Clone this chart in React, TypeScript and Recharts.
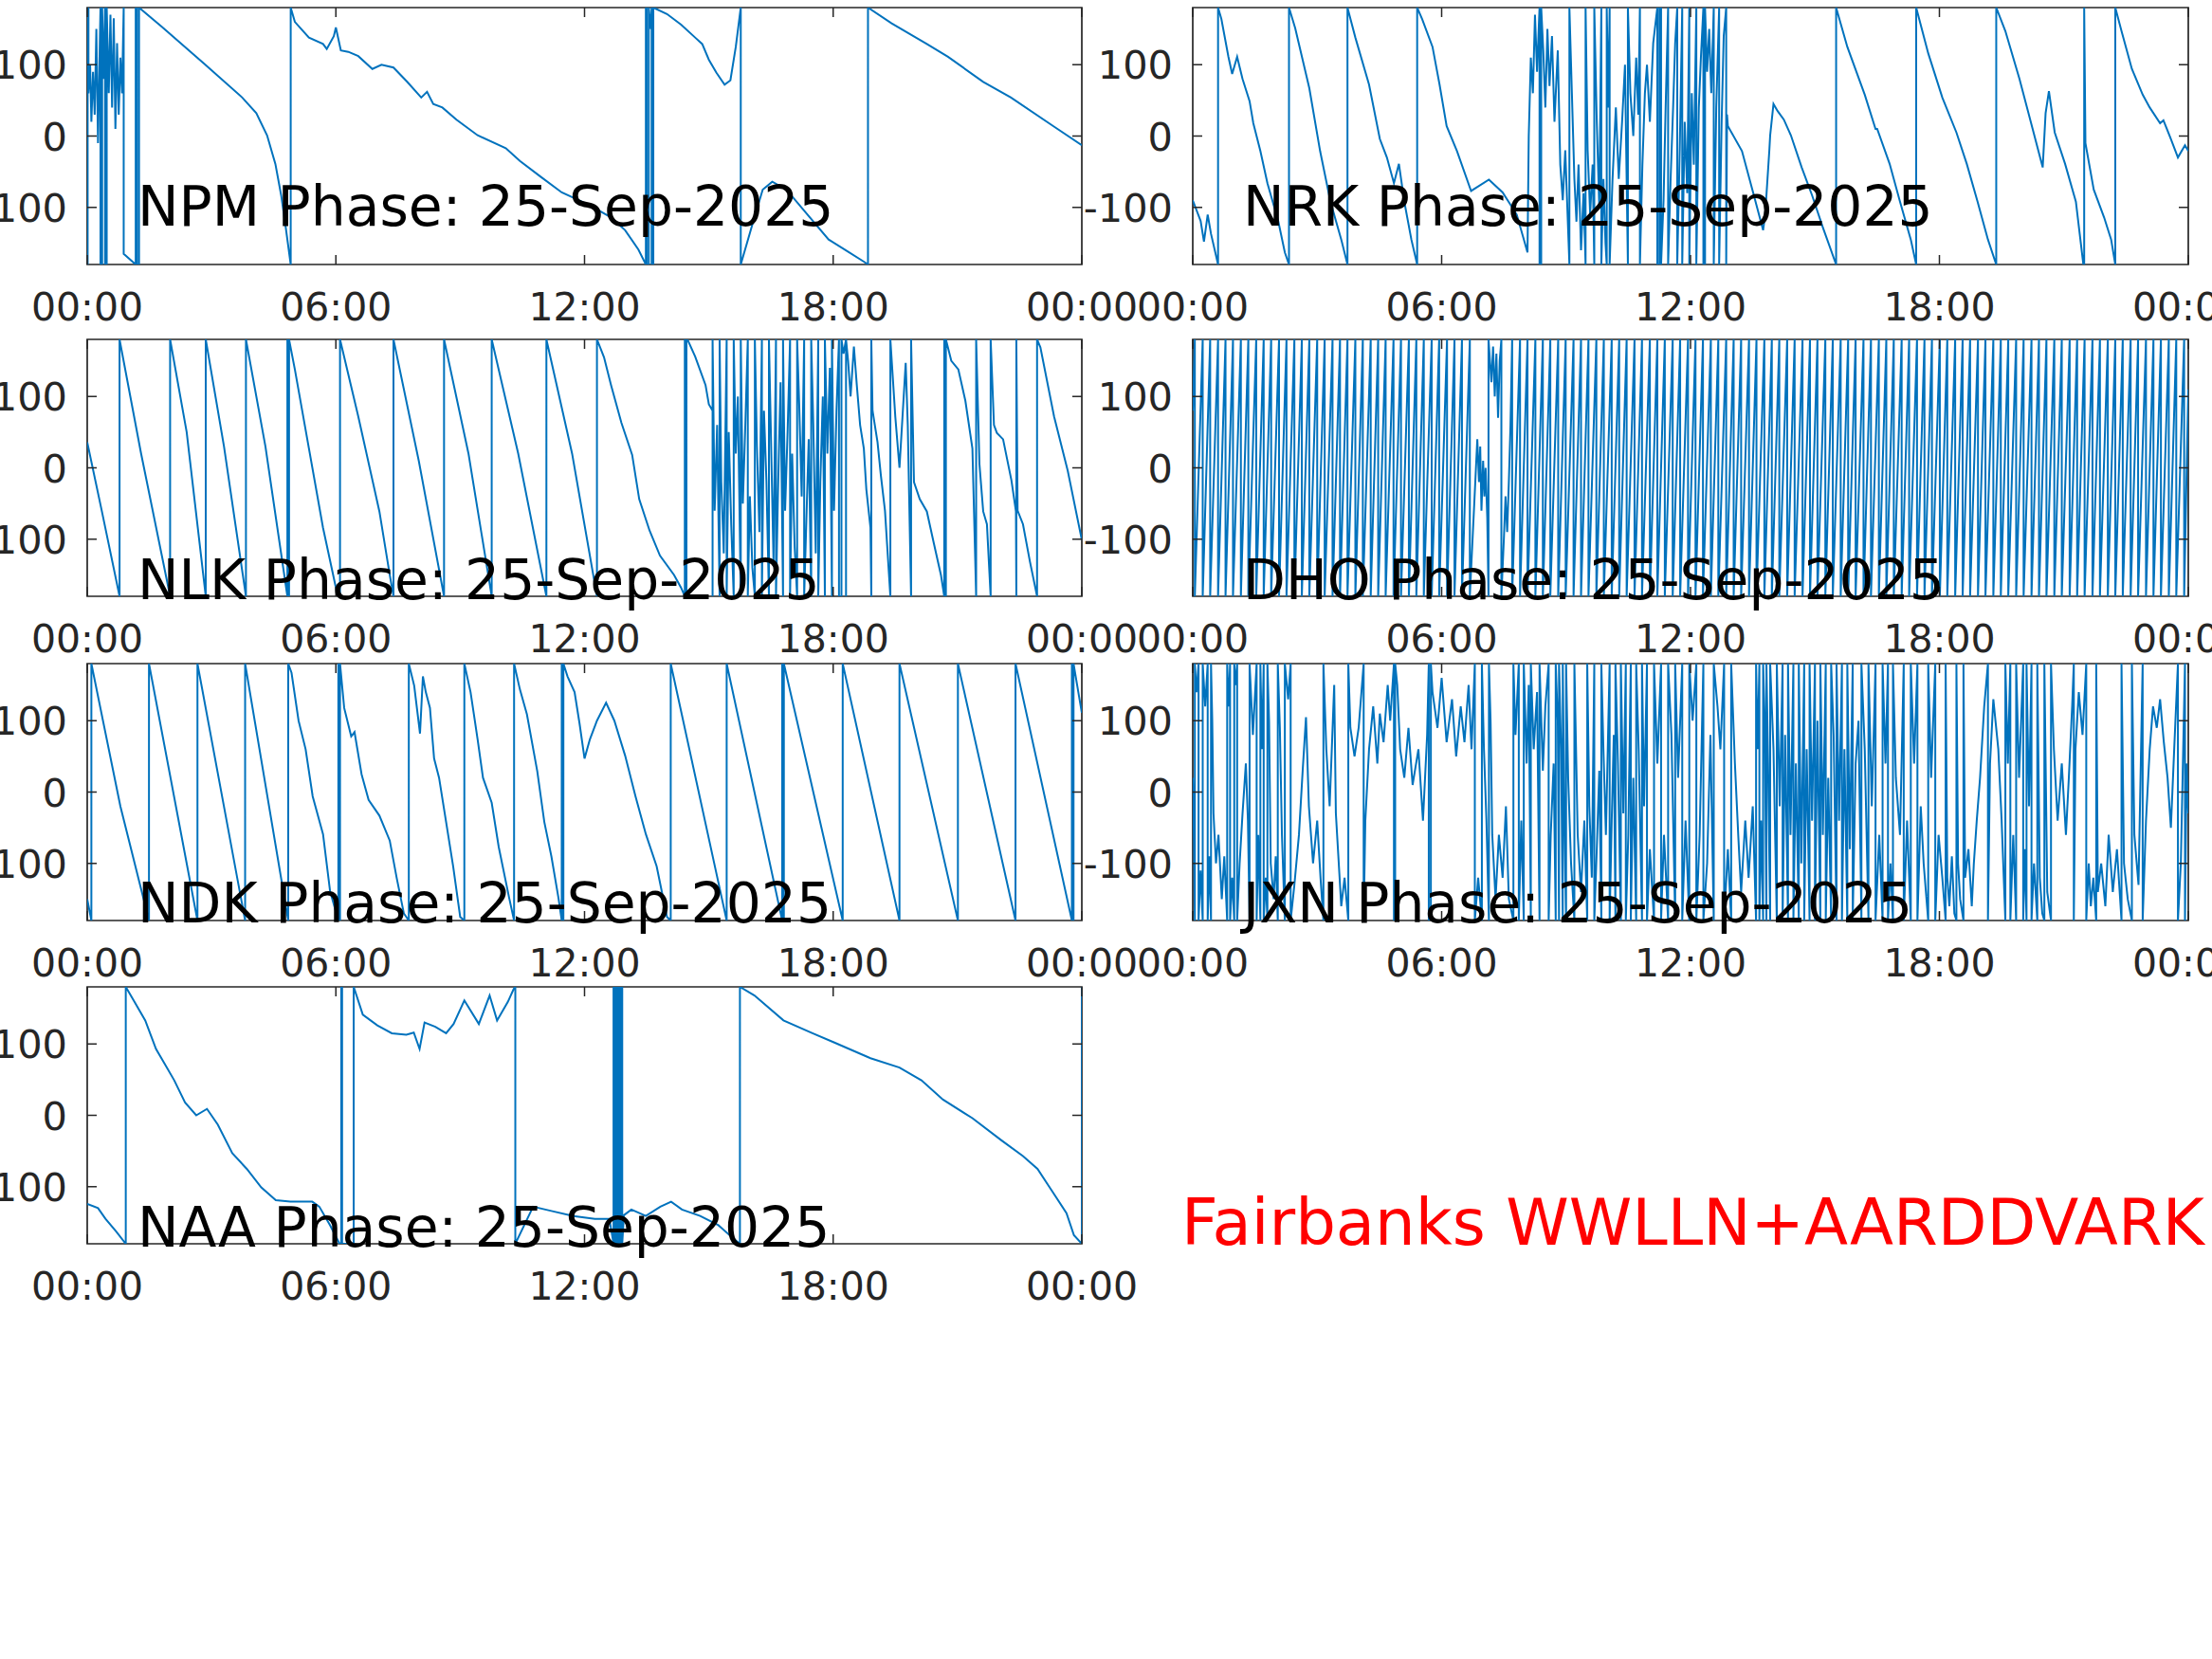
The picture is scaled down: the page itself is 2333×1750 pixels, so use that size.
import React from 'react';
import { LineChart, Line, XAxis, YAxis, ReferenceArea } from 'recharts';

type Pt = [number, number];

// axes
const hourTicks = [0, 6, 12, 18, 24];
const hourTickLabels = ['00:00', '06:00', '12:00', '18:00', '00:00'];
const phaseTicks = [-100, 0, 100];

// [hour, phase deg]; a wrap is two points at the same hour
const npmPhase: Pt[] = [
  [0, 180], [0, -180], [0.01, -180], [0.01, 180], [0.03, 180], [0.03, 60], [0.07, 100], [0.1, 20],
  [0.14, 90], [0.18, 30], [0.22, 150], [0.26, -10], [0.3, 120], [0.32, 180], [0.32, -180],
  [0.36, -180], [0.36, 180], [0.4, 80], [0.43, 180], [0.43, -180], [0.47, -180], [0.47, 180],
  [0.52, 60], [0.56, 170], [0.6, 40], [0.64, 165], [0.68, 10], [0.72, 130], [0.76, 30], [0.8, 110],
  [0.84, 60], [0.88, 180], [0.88, -165], [1.17, -180], [1.17, 180], [1.2, 180], [1.2, -180],
  [1.25, -180], [1.25, 180], [1.8, 153], [2.81, 102], [3.74, 54], [4.08, 32], [4.34, 1], [4.54, -39],
  [4.68, -83], [4.79, -128], [4.91, -180], [4.91, 180], [5.01, 160], [5.35, 138], [5.69, 129],
  [5.78, 122], [5.95, 140], [6.0, 152], [6.12, 120], [6.3, 118], [6.54, 112], [6.88, 94], [7.1, 100],
  [7.39, 96], [7.72, 76], [8.06, 54], [8.2, 62], [8.35, 45], [8.57, 40], [8.91, 23], [9.42, 1],
  [10.1, -17], [10.44, -35], [10.94, -57], [11.45, -79], [12.13, -97], [12.64, -114], [12.98, -132],
  [13.3, -159], [13.48, -180], [13.48, 180], [13.5, 180], [13.5, -180], [13.55, -180], [13.55, 180],
  [13.6, 150], [13.62, 180], [13.62, -180], [13.66, -180], [13.66, 180], [13.99, 171], [14.33, 156],
  [14.67, 138], [14.84, 129], [15.0, 107], [15.18, 89], [15.38, 72], [15.52, 78], [15.65, 125],
  [15.77, 180], [15.77, -180], [16.1, -114], [16.3, -75], [16.53, -64], [16.87, -75], [17.38, -110],
  [17.89, -145], [18.3, -160], [18.74, -176], [18.84, -180], [18.84, 180], [19.41, 158], [20.26, 129],
  [20.77, 111], [21.62, 76], [22.29, 54], [23.31, 14], [24, -13],
];

const nrkPhase: Pt[] = [
  [0, -90], [0.19, -119], [0.27, -148], [0.36, -110], [0.44, -137], [0.61, -180], [0.61, 180],
  [0.69, 164], [0.86, 111], [0.95, 87], [1.07, 111], [1.2, 80], [1.37, 49], [1.46, 18], [1.63, -21],
  [1.8, -66], [2.06, -119], [2.22, -163], [2.32, -180], [2.32, 180], [2.47, 151], [2.81, 67],
  [3.07, -21], [3.32, -92], [3.58, -145], [3.73, -180], [3.73, 180], [3.92, 138], [4.25, 72],
  [4.51, -4], [4.68, -30], [4.85, -66], [4.97, -39], [5.1, -92], [5.27, -145], [5.41, -180],
  [5.41, 180], [5.53, 164], [5.78, 125], [5.95, 72], [6.12, 14], [6.37, -21], [6.71, -77],
  [7.14, -61], [7.47, -79], [7.81, -110], [8.07, -163], [8.1, 0], [8.15, 110], [8.2, 60], [8.25, 170],
  [8.3, 90], [8.36, 180], [8.36, -180], [8.4, -180], [8.4, 180], [8.45, 120], [8.5, 40], [8.55, 150],
  [8.6, 70], [8.66, 140], [8.72, 20], [8.8, 120], [8.86, -40], [8.92, -90], [8.98, -20], [9.08, -180],
  [9.08, 180], [9.14, 60], [9.2, -60], [9.25, -120], [9.3, -40], [9.36, -160], [9.42, -80],
  [9.47, -180], [9.47, 180], [9.52, -20], [9.58, -110], [9.64, -40], [9.68, -180], [9.68, 180],
  [9.74, 20], [9.8, -100], [9.85, 180], [9.85, -180], [9.9, -60], [9.95, -150], [9.98, -180],
  [9.98, 180], [10.02, 40], [10.05, 180], [10.05, -180], [10.12, -60], [10.2, 40], [10.27, -60],
  [10.35, 20], [10.42, 100], [10.49, -180], [10.49, 180], [10.55, 60], [10.62, 0], [10.69, 110],
  [10.74, 30], [10.78, 180], [10.78, -180], [10.84, -40], [10.9, 60], [10.95, 100], [11.02, 20],
  [11.1, 130], [11.2, 180], [11.2, -180], [11.25, -180], [11.25, 180], [11.29, 180], [11.29, -180],
  [11.35, -90], [11.4, 40], [11.46, 180], [11.46, -180], [11.52, -60], [11.58, 40], [11.63, 130],
  [11.68, 180], [11.68, -180], [11.74, -20], [11.8, 180], [11.8, -180], [11.86, 20], [11.92, -80],
  [11.97, 180], [11.97, -180], [12.03, 60], [12.08, -40], [12.14, 180], [12.14, -180], [12.2, 40],
  [12.25, 110], [12.31, 180], [12.31, -180], [12.35, -180], [12.35, 180], [12.4, 90], [12.45, 150],
  [12.5, 60], [12.56, 180], [12.56, -180], [12.62, 40], [12.69, 180], [12.69, -180], [12.75, 20],
  [12.8, 140], [12.86, 180], [12.86, -180], [12.88, 30], [12.9, 14], [13.24, -21], [13.49, -75],
  [13.75, -132], [13.8, -110], [13.9, -20], [13.92, 1], [14.0, 45], [14.1, 35], [14.25, 23],
  [14.42, 1], [14.68, -44], [14.93, -83], [15.19, -128], [15.51, -180], [15.51, 180], [15.78, 125],
  [16.2, 58], [16.46, 10], [16.5, 10], [16.8, -39], [17.05, -92], [17.31, -145], [17.44, -180],
  [17.44, 180], [17.73, 116], [18.07, 54], [18.41, 5], [18.66, -39], [18.92, -92], [19.17, -145],
  [19.37, -180], [19.37, 180], [19.59, 147], [19.93, 80], [20.27, 5], [20.49, -44], [20.56, 32],
  [20.64, 63], [20.78, 5], [21.03, -39], [21.29, -92], [21.47, -180], [21.49, -180], [21.49, 180],
  [21.52, -10], [21.72, -75], [21.97, -114], [22.14, -145], [22.24, -180], [22.24, 180], [22.39, 147],
  [22.64, 94], [22.9, 58], [23.07, 40], [23.32, 18], [23.4, 22], [23.58, -4], [23.75, -30],
  [23.92, -13], [24, -21],
];

const nlkPhase: Pt[] = [
  [0, 36], [0.35, -60], [0.78, -180], [0.78, 180], [1.3, 20], [2.0, -180], [2.0, 180], [2.4, 50],
  [2.86, -180], [2.86, 180], [3.3, 30], [3.83, -180], [3.83, 180], [4.3, 30], [4.83, -180],
  [4.83, 180], [4.85, 180], [4.85, -180], [4.87, -180], [4.87, 180], [5.01, 138], [5.35, 27],
  [5.69, -84], [6.03, -176], [6.1, -180], [6.1, 180], [6.54, 72], [7.05, -61], [7.3, -150],
  [7.39, -180], [7.39, 180], [8.0, 10], [8.61, -180], [8.61, 180], [9.2, 20], [9.76, -180],
  [9.76, 180], [10.4, 20], [11.08, -180], [11.08, 180], [11.7, 20], [12.3, -180], [12.3, 180],
  [12.47, 155], [12.64, 116], [12.89, 63], [13.15, 18], [13.32, -44], [13.57, -88], [13.82, -123],
  [14.16, -150], [14.33, -168], [14.42, -180], [14.42, 180], [14.44, 180], [14.44, -180],
  [14.46, -180], [14.46, 180], [14.5, 178], [14.67, 156], [14.92, 116], [15.0, 89], [15.09, 80],
  [15.09, -180], [15.09, 180], [15.14, -60], [15.2, 60], [15.26, -180], [15.26, 180], [15.3, -20],
  [15.36, -120], [15.43, 180], [15.43, -180], [15.48, 50], [15.54, -80], [15.6, -180], [15.6, 180],
  [15.65, 20], [15.7, 100], [15.77, -180], [15.77, 180], [15.82, -50], [15.88, 60], [15.94, 180],
  [15.94, -180], [15.99, -40], [16.05, -140], [16.11, -180], [16.11, 180], [16.16, 30], [16.22, -90],
  [16.28, 180], [16.28, -180], [16.33, 80], [16.39, -20], [16.45, -180], [16.45, 180], [16.5, 40],
  [16.56, -130], [16.62, 180], [16.62, -180], [16.67, -30], [16.73, 120], [16.79, -180], [16.79, 180],
  [16.84, -60], [16.9, 50], [16.96, 180], [16.96, -180], [17.01, 20], [17.07, -110], [17.13, -180],
  [17.13, 180], [17.18, 90], [17.24, -40], [17.3, 180], [17.3, -180], [17.35, -80], [17.41, 40],
  [17.47, -180], [17.47, 180], [17.52, 60], [17.58, -120], [17.64, 180], [17.64, -180], [17.69, -20],
  [17.75, 100], [17.8, -180], [17.8, 180], [17.86, 20], [17.92, 140], [17.97, -180], [17.97, 180],
  [18.02, -60], [18.08, 80], [18.14, 180], [18.14, -180], [18.2, -180], [18.2, 180], [18.25, 160],
  [18.31, 180], [18.31, -180], [18.31, 180], [18.36, 150], [18.42, 100], [18.5, 170], [18.57, 116],
  [18.65, 60], [18.74, 27], [18.8, -30], [18.9, -84], [18.92, -180], [18.92, 180], [18.95, 80],
  [19.07, 36], [19.15, -10], [19.25, -60], [19.38, -180], [19.38, 180], [19.5, 71], [19.6, 0],
  [19.75, 147], [19.8, 60], [19.88, -180], [19.88, 180], [19.95, -20], [20.09, -44], [20.26, -61],
  [20.43, -106], [20.6, -150], [20.68, -180], [20.68, 180], [20.7, 180], [20.7, -180], [20.72, -180],
  [20.72, 180], [20.85, 150], [21.02, 138], [21.19, 94], [21.36, 27], [21.45, -180], [21.45, 180],
  [21.53, 5], [21.62, -61], [21.71, -79], [21.8, -180], [21.8, 180], [21.88, 60], [21.95, 49],
  [22.1, 40], [22.3, -17], [22.41, -61], [22.42, -180], [22.42, 180], [22.45, -60], [22.58, -79],
  [22.75, -132], [22.92, -180], [22.92, 180], [23.0, 169], [23.33, 72], [23.66, -4], [24, -101],
];

// DHO: fast rising sawtooth, listed by wrap hour, with a disturbed stretch around 07:00
const dhoHead: Pt[] = [[0, 80]];
const dhoWrapsBefore = [
  0.05, 0.24, 0.42, 0.61, 0.79, 0.97, 1.16, 1.34, 1.53, 1.71, 1.89, 2.08, 2.26, 2.45, 2.63, 2.81,
  3.0, 3.18, 3.37, 3.55, 3.73, 3.92, 4.1, 4.29, 4.47, 4.65, 4.84, 5.02, 5.21, 5.39, 5.57, 5.76,
  5.94, 6.13, 6.31, 6.49, 6.68,
];
const dhoBurst: Pt[] = [
  [6.86, 40], [6.9, -20], [6.93, 30], [6.96, -60], [7.0, 10], [7.03, -40], [7.06, 0], [7.1, -70],
  [7.13, -180], [7.13, 180], [7.2, 120], [7.24, 170], [7.28, 100], [7.32, 160], [7.36, 70],
  [7.4, 150], [7.44, 180], [7.44, -180], [7.5, -100], [7.54, -40], [7.58, -90], [7.62, -20],
  [7.66, 60], [7.7, 180], [7.7, -180],
];
const dhoWrapsAfter = [
  7.89, 8.07, 8.26, 8.44, 8.62, 8.81, 8.99, 9.18, 9.36, 9.54, 9.73, 9.91, 10.1, 10.28, 10.46, 10.65,
  10.83, 11.02, 11.2, 11.38, 11.57, 11.75, 11.94, 12.12, 12.3, 12.49, 12.67, 12.86, 13.04, 13.22,
  13.41, 13.59, 13.78, 13.96, 14.14, 14.33, 14.51, 14.7, 14.88, 15.06, 15.25, 15.43, 15.62, 15.8,
  15.98, 16.17, 16.35, 16.54, 16.72, 16.9, 17.09, 17.27, 17.46, 17.64, 17.82, 18.01, 18.19, 18.38,
  18.56, 18.74, 18.93, 19.11, 19.3, 19.48, 19.66, 19.85, 20.03, 20.22, 20.4, 20.58, 20.77, 20.95,
  21.14, 21.32, 21.5, 21.69, 21.87, 22.06, 22.24, 22.42, 22.61, 22.79, 22.98, 23.16, 23.34, 23.53,
  23.71, 23.9,
];
const dhoTail: Pt[] = [[24, 110]];

const ndkPhase: Pt[] = [
  [0, -150], [0.1, -180], [0.1, 180], [0.8, -20], [1.49, -180], [1.49, 180], [2.66, -180],
  [2.66, 180], [3.81, -180], [3.81, 180], [4.85, -180], [4.85, 180], [4.93, 167], [5.1, 100],
  [5.27, 60], [5.44, -6], [5.69, -59], [5.86, -139], [6.06, -180], [6.06, 180], [6.08, 180],
  [6.08, -180], [6.1, -180], [6.1, 180], [6.2, 118], [6.37, 78], [6.45, 84], [6.62, 25], [6.79, -11],
  [7.05, -33], [7.3, -68], [7.47, -121], [7.64, -170], [7.76, -180], [7.76, 180], [7.89, 149],
  [8.03, 82], [8.1, 162], [8.17, 140], [8.27, 118], [8.37, 47], [8.49, 20], [8.66, -42], [8.83, -104],
  [9.0, -175], [9.1, -180], [9.1, 180], [9.25, 140], [9.42, 74], [9.55, 20], [9.76, -15], [9.93, -77],
  [10.18, -148], [10.3, -180], [10.3, 180], [10.44, 144], [10.61, 109], [10.86, 29], [11.03, -42],
  [11.2, -90], [11.37, -148], [11.45, -180], [11.45, 180], [11.47, 180], [11.47, -180], [11.49, -180],
  [11.49, 180], [11.59, 162], [11.76, 140], [11.88, 96], [12.0, 47], [12.13, 74], [12.3, 100],
  [12.52, 125], [12.72, 100], [12.98, 51], [13.23, -6], [13.48, -59], [13.74, -104], [13.99, -175],
  [14.08, -180], [14.08, 180], [15.43, -180], [15.43, 180], [16.77, -180], [16.77, 180], [16.79, 180],
  [16.79, -180], [16.81, -180], [16.81, 180], [18.23, -180], [18.23, 180], [19.6, -180], [19.6, 180],
  [21.01, -180], [21.01, 180], [22.4, -180], [22.4, 180], [23.76, -180], [23.76, 180], [23.78, 180],
  [23.78, -180], [23.8, -180], [23.8, 180], [24, 111],
];

const jxnPhase: Pt[] = [
  [0, 20], [0.03, -70], [0.05, -180], [0.05, 180], [0.09, 140], [0.14, 180], [0.14, -180],
  [0.19, -110], [0.24, -180], [0.24, 180], [0.3, 120], [0.36, 180], [0.36, -180], [0.4, -90],
  [0.44, -180], [0.44, 180], [0.47, 100], [0.5, -30], [0.56, -100], [0.62, -60], [0.7, -150],
  [0.76, -90], [0.83, -180], [0.83, 180], [0.87, 120], [0.9, 180], [0.9, -180], [0.95, -120],
  [1.0, -180], [1.0, 180], [1.04, 150], [1.07, 180], [1.07, -180], [1.13, -100], [1.2, -30],
  [1.28, 40], [1.33, -40], [1.37, -180], [1.37, 180], [1.45, 80], [1.54, 180], [1.54, -180],
  [1.58, -60], [1.63, -180], [1.63, 180], [1.67, 60], [1.71, 180], [1.71, -180], [1.76, -120],
  [1.8, -180], [1.8, 180], [1.84, 100], [1.88, -100], [1.95, -150], [2.0, -90], [2.05, -180],
  [2.05, 180], [2.1, 90], [2.15, -60], [2.22, -180], [2.22, 180], [2.3, 130], [2.36, 180],
  [2.36, -180], [2.45, -130], [2.56, -60], [2.65, 30], [2.73, 105], [2.8, -20], [2.9, -100],
  [3.0, -40], [3.08, -120], [3.15, -180], [3.15, 180], [3.22, 60], [3.3, -20], [3.41, 150],
  [3.45, -30], [3.52, -100], [3.58, -160], [3.66, -120], [3.75, -180], [3.75, 180], [3.8, 90],
  [3.9, 50], [4.0, 90], [4.12, 180], [4.12, -180], [4.16, -40], [4.25, 60], [4.35, 120], [4.45, 40],
  [4.51, 110], [4.6, 70], [4.7, 150], [4.76, 100], [4.85, 180], [4.85, -180], [4.88, -180],
  [4.88, 180], [4.93, 150], [5.0, 60], [5.1, 20], [5.2, 90], [5.3, 10], [5.44, 60], [5.55, -40],
  [5.65, 80], [5.69, 180], [5.69, -180], [5.74, -180], [5.74, 180], [5.78, 140], [5.9, 90],
  [6.0, 160], [6.12, 70], [6.25, 130], [6.35, 50], [6.46, 120], [6.55, 70], [6.65, 150], [6.72, 60],
  [6.8, 180], [6.8, -180], [6.88, -120], [6.97, -180], [6.97, 180], [7.02, 60], [7.08, -40],
  [7.14, -180], [7.14, 180], [7.18, 100], [7.22, -60], [7.3, -150], [7.38, -60], [7.47, -120],
  [7.55, -20], [7.62, -150], [7.73, -180], [7.73, 180], [7.78, 80], [7.86, 180], [7.86, -180],
  [7.92, -40], [7.98, -180], [7.98, 180], [8.05, 40], [8.1, 150], [8.15, -180], [8.15, 180],
  [8.22, 60], [8.3, 140], [8.36, -180], [8.36, 180], [8.44, 30], [8.5, 120], [8.58, 180],
  [8.58, -180], [8.63, -60], [8.7, 40], [8.75, -180], [8.75, 180], [8.8, 100], [8.83, -180],
  [8.83, 180], [8.88, 60], [8.92, -180], [8.92, 180], [8.96, -40], [9.0, -180], [9.0, 180],
  [9.05, 20], [9.12, -100], [9.2, -180], [9.2, 180], [9.28, -60], [9.36, -140], [9.44, -40],
  [9.51, -180], [9.51, 180], [9.56, -20], [9.62, -120], [9.68, 180], [9.68, -180], [9.74, -80],
  [9.8, 30], [9.85, -180], [9.85, 180], [9.9, 60], [9.96, -60], [10.05, 180], [10.05, -180],
  [10.1, -40], [10.15, 80], [10.19, -180], [10.19, 180], [10.25, 40], [10.32, -180], [10.32, 180],
  [10.38, -30], [10.44, 180], [10.44, -180], [10.5, -60], [10.56, 180], [10.56, -180], [10.62, 20],
  [10.69, -180], [10.69, 180], [10.75, 60], [10.83, -180], [10.83, 180], [10.88, -20], [10.95, 180],
  [10.95, -180], [11.02, -80], [11.12, -180], [11.12, 180], [11.2, 40], [11.29, 180], [11.29, -180],
  [11.36, -60], [11.46, -180], [11.46, 180], [11.54, 80], [11.63, -180], [11.63, 180], [11.7, 20],
  [11.8, 180], [11.8, -180], [11.88, -40], [11.97, -180], [11.97, 180], [12.05, 100], [12.14, 180],
  [12.14, -180], [12.22, -60], [12.31, 180], [12.31, -180], [12.4, -100], [12.48, 80], [12.56, -180],
  [12.56, 180], [12.65, 120], [12.72, 60], [12.81, 180], [12.81, -180], [12.9, -80], [12.98, -180],
  [12.98, 180], [13.07, 40], [13.15, -60], [13.22, -140], [13.32, -40], [13.4, -120], [13.5, -20],
  [13.58, -180], [13.58, 180], [13.62, 60], [13.66, 180], [13.66, -180], [13.7, -40], [13.75, -180],
  [13.75, 180], [13.79, 100], [13.83, -180], [13.83, 180], [13.87, 40], [13.92, -180], [13.92, 180],
  [14.0, 60], [14.08, -180], [14.08, 180], [14.15, -20], [14.22, 180], [14.22, -180], [14.28, 80],
  [14.35, -180], [14.35, 180], [14.41, -60], [14.48, 180], [14.48, -180], [14.54, 40], [14.61, -180],
  [14.61, 180], [14.67, -100], [14.74, 180], [14.74, -180], [14.8, 60], [14.87, -180], [14.87, 180],
  [14.93, -40], [15.0, 180], [15.0, -180], [15.06, 100], [15.13, -180], [15.13, 180], [15.19, -60],
  [15.26, 180], [15.26, -180], [15.32, 20], [15.39, -180], [15.39, 180], [15.45, 80], [15.52, -180],
  [15.52, 180], [15.58, -40], [15.65, 180], [15.65, -180], [15.71, 60], [15.78, -180], [15.78, 180],
  [15.84, -80], [15.91, 180], [15.91, -180], [15.98, 40], [16.05, 100], [16.12, -180], [16.12, 180],
  [16.2, 60], [16.29, -180], [16.29, 180], [16.37, -20], [16.46, 180], [16.46, -180], [16.55, -60],
  [16.63, -180], [16.63, 180], [16.7, 40], [16.76, 180], [16.76, -180], [16.82, -100], [16.88, -180],
  [16.88, 180], [16.95, 20], [17.05, -60], [17.14, 180], [17.14, -180], [17.22, -40], [17.31, -180],
  [17.31, 180], [17.39, 40], [17.47, 180], [17.47, -180], [17.55, -20], [17.62, -100], [17.73, -180],
  [17.73, 180], [17.8, 20], [17.9, 180], [17.9, -180], [17.98, -60], [18.07, -120], [18.15, -180],
  [18.15, 180], [18.19, -120], [18.24, -160], [18.3, -90], [18.36, -170], [18.41, -180], [18.41, 180],
  [18.45, -100], [18.5, -150], [18.58, -180], [18.58, 180], [18.62, -120], [18.7, -80], [18.78, -160],
  [18.83, -100], [18.9, -40], [18.98, 20], [19.08, 120], [19.17, 180], [19.17, -180], [19.22, 40],
  [19.3, 130], [19.42, 60], [19.5, -40], [19.59, -180], [19.59, 180], [19.65, 40], [19.71, 180],
  [19.71, -180], [19.78, -60], [19.85, -180], [19.85, 180], [19.92, 20], [20.02, 180], [20.02, -180],
  [20.06, -80], [20.1, -180], [20.1, 180], [20.16, -20], [20.22, 180], [20.22, -180], [20.28, -100],
  [20.36, -180], [20.36, 180], [20.42, -120], [20.48, -170], [20.53, -180], [20.53, 180],
  [20.6, -140], [20.69, -180], [20.69, 180], [20.76, 60], [20.85, -40], [20.95, 40], [21.05, -60],
  [21.12, 20], [21.2, 120], [21.24, 180], [21.24, -180], [21.28, 60], [21.36, 140], [21.45, 80],
  [21.54, 180], [21.54, -180], [21.6, -100], [21.65, -160], [21.71, -120], [21.78, -180],
  [21.78, 180], [21.82, -140], [21.9, -100], [22.0, -160], [22.08, -60], [22.18, -140], [22.28, -80],
  [22.39, -180], [22.39, 180], [22.45, -100], [22.54, -150], [22.64, -180], [22.64, 180], [22.7, -60],
  [22.8, -130], [22.9, 180], [22.9, -180], [22.98, -40], [23.07, 60], [23.15, 120], [23.24, 90],
  [23.32, 130], [23.41, 70], [23.5, 20], [23.58, -50], [23.66, 60], [23.75, 180], [23.75, -180],
  [23.82, -100], [23.92, 180], [23.92, -180], [23.96, 40], [24, -30],
];

const naaPhase: Pt[] = [
  [0, -124], [0.26, -130], [0.44, -145], [0.7, -163], [0.93, -180], [0.93, 180], [1.14, 159],
  [1.4, 133], [1.66, 93], [1.84, 75], [2.1, 49], [2.36, 18], [2.63, 0], [2.89, 9], [3.15, -13],
  [3.5, -53], [3.85, -75], [4.2, -101], [4.55, -119], [4.9, -121], [5.43, -121], [5.6, -128],
  [5.86, -154], [6.09, -180], [6.13, -180], [6.13, 180], [6.15, 180], [6.15, -180], [6.43, -180],
  [6.43, 180], [6.65, 141], [7.0, 126], [7.35, 115], [7.7, 113], [7.88, 116], [8.02, 93], [8.14, 130],
  [8.4, 124], [8.66, 115], [8.84, 128], [9.1, 161], [9.45, 128], [9.71, 168], [9.89, 133],
  [10.15, 159], [10.29, 177], [10.33, 180], [10.33, -180], [10.76, -128], [11.2, -134],
  [11.73, -141], [12.25, -145], [12.6, -145], [12.7, -180], [12.7, 180], [12.73, 180], [12.73, -180],
  [12.76, -180], [12.76, 180], [12.79, 180], [12.79, -180], [12.82, -180], [12.82, 180], [12.85, 180],
  [12.85, -180], [12.88, -180], [12.88, 180], [12.91, 180], [12.91, -180], [12.95, -140],
  [13.13, -132], [13.48, -141], [13.83, -128], [14.09, -121], [14.35, -132], [14.79, -141],
  [15.23, -154], [15.58, -172], [15.75, -180], [15.75, 180], [16.1, 168], [16.8, 133], [17.5, 115],
  [18.03, 102], [18.9, 80], [19.6, 67], [20.13, 49], [20.65, 22], [21.36, -4], [22.06, -35],
  [22.58, -57], [22.93, -75], [23.28, -106], [23.63, -137], [23.81, -168], [24, -180], [24, 180],
];

const wrapsToPoints = (wraps: number[]): Pt[] => wraps.flatMap((w) => [[w, 180], [w, -180]] as Pt[]);

const dhoPhase: Pt[] = [
  ...dhoHead,
  ...wrapsToPoints(dhoWrapsBefore),
  ...dhoBurst,
  ...wrapsToPoints(dhoWrapsAfter),
  ...dhoTail,
];

const FONT = '"DejaVu Sans", Verdana, sans-serif';
const AXIS = '#262626';
const BLUE = '#0072BD';

const PLOT_H = 271;
const Y_AXIS_W = 130;
const TOP_M = 20;
const RIGHT_M = 80;
const X_AXIS_H = 80;
const TICK = 10;

interface PanelProps {
  points: Pt[];
  left: number;
  top: number;
  width: number;
}

const PhasePanel: React.FC<PanelProps> = ({ points, left, top, width }) => {
  const data = points.map(([h, p]) => ({ h, p }));
  const x0 = Y_AXIS_W;
  const x1 = Y_AXIS_W + width;
  const y0 = TOP_M;
  const y1 = TOP_M + PLOT_H;

  const renderYTick = (props: any) => {
    const { y, payload } = props;
    return (
      <g>
        <line x1={x0} x2={x0 + TICK} y1={y} y2={y} stroke={AXIS} strokeWidth={1.5} />
        <line x1={x1 - TICK} x2={x1} y1={y} y2={y} stroke={AXIS} strokeWidth={1.5} />
        <text x={x0 - 21} y={y} dy={15} textAnchor="end" fontSize={41.5} fill={AXIS} fontFamily={FONT}>
          {payload.value}
        </text>
      </g>
    );
  };

  const renderXTick = (props: any) => {
    const { x, payload } = props;
    const i = hourTicks.indexOf(payload.value);
    return (
      <g>
        <line x1={x} x2={x} y1={y1} y2={y1 - TICK} stroke={AXIS} strokeWidth={1.5} />
        <line x1={x} x2={x} y1={y0} y2={y0 + TICK} stroke={AXIS} strokeWidth={1.5} />
        <text x={x} y={y1 + 59} textAnchor="middle" fontSize={41} fill={AXIS} fontFamily={FONT}>
          {hourTickLabels[i]}
        </text>
      </g>
    );
  };

  return (
    <div style={{ position: 'absolute', left: left - Y_AXIS_W, top: top - TOP_M }}>
      <LineChart
        width={Y_AXIS_W + width + RIGHT_M}
        height={TOP_M + PLOT_H + X_AXIS_H}
        data={data}
        margin={{ top: TOP_M, right: RIGHT_M, bottom: 0, left: 0 }}>
        <XAxis
          dataKey="h"
          type="number"
          domain={[0, 24]}
          ticks={hourTicks}
          interval={0}
          allowDataOverflow
          axisLine={false}
          tickLine={false}
          height={X_AXIS_H}
          tick={renderXTick}
        />
        <YAxis
          type="number"
          domain={[-180, 180]}
          ticks={phaseTicks}
          interval={0}
          allowDataOverflow
          axisLine={false}
          tickLine={false}
          width={Y_AXIS_W}
          tick={renderYTick}
        />
        <ReferenceArea x1={0} x2={24} y1={-180} y2={180} fill="none" stroke={AXIS} strokeWidth={1.7} />
        <Line
          type="linear"
          dataKey="p"
          stroke={BLUE}
          strokeWidth={2}
          dot={false}
          activeDot={false}
          isAnimationActive={false}
        />
      </LineChart>
    </div>
  );
};

const titles = [
  { text: 'NPM Phase: 25-Sep-2025', x: 145, y: 238 },
  { text: 'NRK Phase: 25-Sep-2025', x: 1311, y: 238 },
  { text: 'NLK Phase: 25-Sep-2025', x: 145, y: 632 },
  { text: 'DHO Phase: 25-Sep-2025', x: 1311, y: 632 },
  { text: 'NDK Phase: 25-Sep-2025', x: 145, y: 973 },
  { text: 'JXN Phase: 25-Sep-2025', x: 1311, y: 973 },
  { text: 'NAA Phase: 25-Sep-2025', x: 145, y: 1315 },
];

export default function App() {
  return (
    <div
      style={{
        position: 'absolute',
        left: 0,
        top: 0,
        width: 2333,
        height: 1750,
        overflow: 'hidden',
        background: '#fff',
        fontFamily: FONT,
      }}>
      <PhasePanel points={npmPhase} left={92} top={8} width={1049} />
      <PhasePanel points={nrkPhase} left={1258} top={8} width={1050} />
      <PhasePanel points={nlkPhase} left={92} top={358} width={1049} />
      <PhasePanel points={dhoPhase} left={1258} top={358} width={1050} />
      <PhasePanel points={ndkPhase} left={92} top={700} width={1049} />
      <PhasePanel points={jxnPhase} left={1258} top={700} width={1050} />
      <PhasePanel points={naaPhase} left={92} top={1041} width={1049} />
      <svg
        width={2333}
        height={1750}
        style={{ position: 'absolute', left: 0, top: 0, pointerEvents: 'none' }}>
        {titles.map((t) => (
          <text key={t.text} x={t.x} y={t.y} fontSize={58.3} fill="#000" fontFamily={FONT}>
            {t.text}
          </text>
        ))}
        <text x={1246} y={1313} fontSize={67.3} fill="#FF0000" fontFamily={FONT}>
          Fairbanks WWLLN+AARDDVARK
        </text>
      </svg>
    </div>
  );
}
